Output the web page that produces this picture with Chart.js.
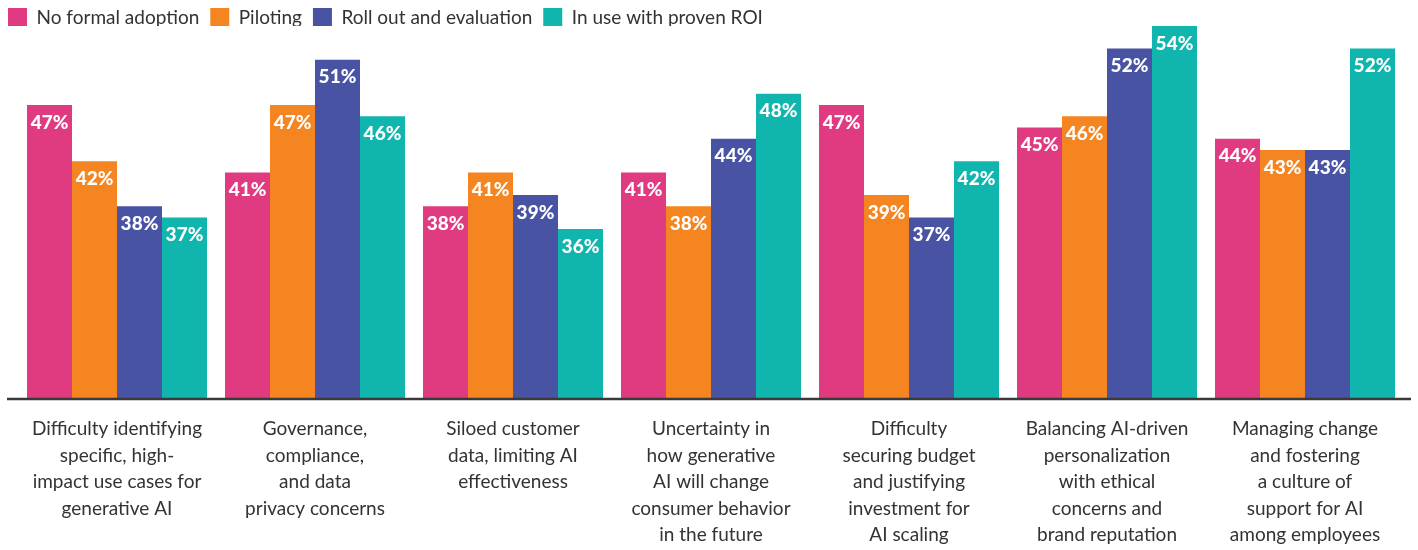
<!DOCTYPE html>
<html>
<head>
<meta charset="utf-8">
<script src="https://cdn.jsdelivr.net/npm/chart.js@4"></script>
<style>
  html, body { margin: 0; padding: 0; background: #fff; }
  #wrap { width: 1418px; height: 550px; position: relative; }
</style>
</head>
<body>
<div id="wrap"><canvas id="chart"></canvas></div>
<script>
const categories = [
  ["Difficulty identifying", "specific, high-", "impact use cases for", "generative AI"],
  ["Governance,", "compliance,", "and data", "privacy concerns"],
  ["Siloed customer", "data, limiting AI", "effectiveness"],
  ["Uncertainty in", "how generative", "AI will change", "consumer behavior", "in the future"],
  ["Difficulty", "securing budget", "and justifying", "investment for", "AI scaling"],
  ["Balancing AI-driven", "personalization", "with ethical", "concerns and", "brand reputation"],
  ["Managing change", "and fostering", "a culture of", "support for AI", "among employees"],
];
const seriesNames = ["No formal adoption", "Piloting", "Roll out and evaluation", "In use with proven ROI"];
const noFormal = [47, 41, 38, 41, 47, 45, 44];
const piloting = [42, 47, 41, 38, 39, 46, 43];
const rollOut  = [38, 51, 39, 44, 37, 52, 43];
const inUse    = [37, 46, 36, 48, 42, 54, 52];

const C = {
  pink:   "#E03A80",
  orange: "#F48521",
  blue:   "#4953A3",
  teal:   "#10B5AE",
  text:   "#333333",
  axis:   "#3a3a3a",
};

const FONT = "Lato, 'Open Sans', sans-serif";

// white % labels inside the top of each bar
const barLabels = {
  id: "barLabels",
  afterDatasetsDraw(chart) {
    const { ctx } = chart;
    ctx.save();
    ctx.fillStyle = "#fff";
    ctx.font = `900 19px ${FONT}`;
    ctx.textAlign = "center";
    ctx.textBaseline = "top";
    chart.data.datasets.forEach((ds, i) => {
      chart.getDatasetMeta(i).data.forEach((bar, j) => {
        ctx.fillText(`${ds.data[j]}%`, bar.x, bar.y + 8);
      });
    });
    ctx.restore();
  },
};

// baseline runs a bit past the plot edges
const baseline = {
  id: "baseline",
  afterDraw(chart) {
    const { ctx, chartArea } = chart;
    ctx.save();
    ctx.strokeStyle = C.axis;
    ctx.lineWidth = 2.5;
    ctx.beginPath();
    ctx.moveTo(7, chartArea.bottom + 1);
    ctx.lineTo(1411, chartArea.bottom + 1);
    ctx.stroke();
    ctx.restore();
  },
};

const colors = [C.pink, C.orange, C.blue, C.teal];
const values = [noFormal, piloting, rollOut, inUse];

new Chart(document.getElementById("chart"), {
  type: "bar",
  data: {
    labels: categories,
    datasets: seriesNames.map((name, i) => ({
      label: name,
      data: values[i],
      backgroundColor: colors[i],
      borderWidth: 0,
      categoryPercentage: 0.909,
      barPercentage: 1.0,
    })),
  },
  options: {
    responsive: true,
    maintainAspectRatio: false,
    animation: false,
    layout: { padding: { left: -3, right: 14, top: -3, bottom: -16 } },
    plugins: {
      legend: {
        display: true,
        position: "top",
        align: "start",
        maxHeight: 29,
        labels: {
          boxWidth: 19,
          boxHeight: 19,
          padding: 11,
          color: C.text,
          font: { size: 19, family: FONT },
        },
      },
      tooltip: { enabled: false },
    },
    scales: {
      x: {
        grid: { display: false, drawTicks: false },
        border: { display: false },
        ticks: {
          color: C.text,
          font: { size: 19, family: FONT, lineHeight: 1.39 },
          maxRotation: 0,
          autoSkip: false,
          padding: 18,
        },
      },
      y: {
        min: 21,
        max: 54,
        grid: { display: false, drawTicks: false },
        border: { display: false },
        ticks: { display: false },
        afterFit: (s) => { s.width = 21; },
      },
    },
  },
  plugins: [barLabels, baseline],
});
</script>
</body>
</html>
